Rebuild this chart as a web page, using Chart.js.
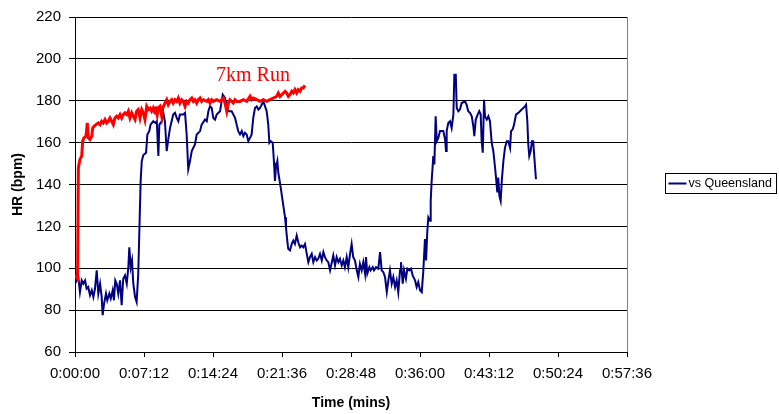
<!DOCTYPE html>
<html>
<head>
<meta charset="utf-8">
<script src="https://cdn.jsdelivr.net/npm/chart.js@4"></script>
<style>
  html, body { margin: 0; padding: 0; background: #fff; }
  #wrap { width: 779px; height: 414px; }
</style>
</head>
<body>
<div id="wrap"><canvas id="canvas" width="779" height="414"></canvas></div>
<script>
// elapsed time in seconds, heart rate in bpm
const blueTime = [0, 11, 21, 31, 42, 52, 63, 73, 83, 94, 105, 115, 125, 136, 146, 157, 167, 173, 182, 194,
  202, 215, 224, 236, 244, 252, 261, 271, 282, 292, 302, 313, 324, 334, 340, 349, 357, 365, 376, 386,
  396, 403, 411, 418, 428, 445, 453, 465, 473, 490, 503, 512, 522, 528, 543, 553, 563, 574, 584, 595,
  615, 626, 637, 647, 657, 678, 689, 699, 709, 720, 731, 751, 762, 783, 793, 814, 825, 835, 845, 856,
  866, 877, 887, 908, 925, 939, 950, 960, 981, 1002, 1012, 1022, 1033, 1044, 1054, 1064, 1075, 1085, 1096, 1106,
  1116, 1127, 1138, 1148, 1158, 1179, 1190, 1200, 1210, 1217, 1225, 1238, 1246, 1252, 1258, 1267, 1273, 1288, 1300, 1315,
  1321, 1329, 1335, 1346, 1357, 1367, 1377, 1388, 1398, 1409, 1419, 1429, 1440, 1451, 1461, 1471, 1482, 1492, 1503, 1513,
  1523, 1534, 1545, 1555, 1565, 1576, 1586, 1597, 1617, 1628, 1638, 1649, 1659, 1670, 1680, 1690, 1701, 1711, 1722, 1732,
  1742, 1753, 1764, 1774, 1784, 1795, 1805, 1816, 1822, 1830, 1843, 1851, 1864, 1872, 1885, 1899, 1910, 1920, 1930, 1941,
  1952, 1962, 1972, 1983, 1993, 2004, 2014, 2024, 2035, 2041, 2052, 2060, 2072, 2081, 2093, 2104, 2114, 2129, 2139, 2149,
  2160, 2171, 2181, 2191, 2198, 2206, 2212, 2223, 2227, 2233, 2240, 2243, 2250, 2258, 2265, 2275, 2285, 2306, 2317, 2323,
  2327, 2337, 2348, 2358, 2369, 2375, 2384, 2390, 2400, 2410, 2421, 2442, 2452, 2462, 2473, 2484, 2494, 2500, 2509, 2521,
  2531, 2540, 2546, 2553, 2561, 2567, 2578, 2588, 2598, 2609, 2619, 2630, 2636, 2644, 2650, 2657, 2665, 2672, 2682, 2692,
  2703, 2713, 2724, 2730, 2740, 2749, 2761, 2775, 2797, 2817, 2824, 2832, 2838, 2844, 2853, 2861, 2869, 2876, 2886];
const blueHR = [100.5, 94.2, 95.8, 88.6, 94.2, 92.6, 94.2, 90.2, 91, 87.1, 89.5, 86.3, 90.2, 99, 87.9, 92.6, 86.3, 77.6, 83.1, 87.9,
  84.7, 87.9, 85.5, 89.5, 84.7, 94.2, 92.6, 87.9, 94.2, 82.3, 95, 96.6, 92.6, 100.5, 110, 100.5, 103.7, 92.6, 86.3, 83.9,
  97.4, 118, 141.7, 151.2, 154.1, 155.2, 163.9, 165.5, 168.6, 170.2, 169.4, 170.2, 153.6, 168.6, 170.2, 174.2, 170.2, 156, 161.5, 167,
  173.4, 174.2, 171.8, 170.2, 173.4, 173.4, 174.2, 163.9, 147.3, 151.2, 156, 159.1, 163.9, 165.5, 168.6, 171, 170.2, 175, 177.3, 176.5,
  171.8, 171, 173.4, 175, 182.9, 181.3, 178.1, 175, 175, 171.8, 168.6, 165.5, 163.9, 165.5, 163.1, 164.7, 163.9, 160.7, 162.3, 163.9,
  171.8, 176.5, 177.3, 175.8, 176.5, 179.7, 177.3, 175, 168.6, 159.9, 160.7, 159.9, 150.4, 141.7, 148, 151.2, 145.6, 138.5, 132.2, 124.3,
  119.5, 113.2, 109.3, 108.5, 111.6, 113.2, 111.6, 115.6, 112.4, 110, 110.8, 110, 111.6, 106.9, 102.9, 105.3, 106.9, 102.9, 105.3, 103.7,
  104.5, 106.9, 103.7, 107.7, 105.3, 103.7, 102.9, 99, 106.1, 101.3, 105.3, 102.9, 104.5, 101.3, 103.7, 100.5, 105.3, 100.5, 106.9, 111.6,
  105.3, 103.7, 99, 95.8, 102.1, 99, 102.9, 97.4, 105.3, 97.4, 100.5, 99, 100.5, 99, 100.5, 99.8, 107.7, 99, 98.2, 95.8,
  88.6, 94.2, 99, 92.6, 95.8, 91, 94.2, 88.6, 99, 102.9, 92.6, 99, 95, 99.8, 99, 99.8, 96.6, 94.2, 91, 93.4,
  89.5, 88.6, 99, 114, 103.7, 118, 124.3, 122.7, 132.2, 141.7, 149.6, 153.6, 149.6, 172.6, 160.7, 162.3, 165.5, 165.5, 161.5, 156,
  165.5, 169.4, 170.2, 167, 173.4, 192.4, 192.4, 176.5, 175, 175.8, 178.9, 179.7, 178.1, 175, 174.2, 172.6, 167.8, 163.1, 171, 173.4,
  175, 173.4, 160.7, 155.2, 180.5, 172.6, 171, 172.6, 170.2, 159.9, 156, 148, 143.3, 136.2, 143.3, 134.6, 132.2, 141.7, 151.2, 157.5,
  160.7, 160.7, 157.5, 165.5, 166.3, 168.6, 173.4, 174.2, 175.8, 177.3, 178.1, 170.2, 159.1, 153.6, 156, 160.7, 160.7, 152.8, 142.5];

const redTime = [0, 16, 21, 31, 42, 48, 56, 69, 77, 83, 94, 105, 111, 119, 131, 146, 157, 167, 177, 188,
  198, 208, 219, 230, 240, 250, 261, 271, 282, 292, 302, 313, 324, 334, 344, 355, 365, 376, 386, 396,
  407, 418, 428, 438, 449, 459, 470, 480, 490, 501, 507, 515, 522, 532, 543, 549, 563, 574, 584, 595,
  605, 615, 626, 637, 647, 657, 668, 678, 689, 699, 709, 720, 731, 741, 751, 762, 772, 783, 793, 804,
  825, 835, 845, 856, 866, 887, 908, 929, 939, 950, 960, 970, 991, 1002, 1012, 1033, 1054, 1075, 1096, 1106,
  1116, 1138, 1158, 1179, 1200, 1221, 1242, 1263, 1273, 1284, 1294, 1315, 1325, 1336, 1346, 1357, 1367, 1377, 1388, 1398,
  1409, 1419, 1429, 1440];
const redHR = [96.5, 95, 148, 152, 153.6, 160.7, 162.3, 163.1, 169.4, 162.3, 161.5, 163.1, 167, 167.8, 168.6, 169.4, 168.6, 170.2, 169.4, 171,
  169.4, 170.2, 171.8, 170.2, 168.6, 171.8, 172.6, 171.8, 173.4, 171.8, 173.4, 174.2, 173.4, 175, 171.8, 174.2, 172.6, 171, 175, 175.8,
  171.8, 175.8, 174.2, 171, 177.3, 175.8, 176.5, 175, 176.5, 174.2, 177.3, 173.4, 176.5, 177.3, 172.6, 176.5, 178.9, 180.5, 178.1, 179.7,
  180.5, 178.9, 180.5, 179.7, 181.3, 178.9, 180.5, 179.7, 177.3, 179.7, 178.9, 180.5, 181.3, 179.7, 180.5, 178.9, 180.5, 181.3, 179.7, 180.5,
  179.7, 180.5, 178.9, 180.5, 179.7, 180.5, 179.7, 181.3, 178.9, 175, 178.9, 180.5, 178.9, 180.5, 179.7, 179.7, 180.5, 179.7, 182.1, 180.5,
  181.3, 180.5, 179.7, 180.5, 179.7, 180.5, 181.3, 182.1, 183.7, 182.1, 182.9, 184.5, 183.7, 182.1, 182.9, 184.5, 183.7, 185.3, 183.7, 185.3,
  184.5, 186.1, 186.1, 187.3];

const seriesNames = ["7km Run", "vs Queensland"];
const yTicks = { min: 60, max: 220, step: 20 };
const xTicks = { min: 0, max: 3456, step: 432 };   // 0:00:00 .. 0:57:36 every 0:07:12
const runLabelAt = { t: 883, hr: 189.2 };

function hms(sec) {
  const h = Math.floor(sec / 3600);
  const m = Math.floor((sec % 3600) / 60);
  const s = Math.round(sec % 60);
  return h + ":" + String(m).padStart(2, "0") + ":" + String(s).padStart(2, "0");
}

const pairs = (ts, vs) => ts.map((t, i) => ({ x: t, y: vs[i] }));

const FONT = "'Liberation Sans', Arial, sans-serif";

const extras = {
  id: "extras",
  beforeDraw(chart) {
    const ctx = chart.ctx;
    ctx.save();
    ctx.fillStyle = "#fff";
    ctx.fillRect(0, 0, chart.width, chart.height);
    ctx.restore();
  },
  afterDraw(chart) {
    const { ctx, chartArea, scales } = chart;
    ctx.save();
    // plot area right border
    ctx.strokeStyle = "#808080";
    ctx.lineWidth = 1;
    ctx.beginPath();
    ctx.moveTo(Math.round(chartArea.right) + 0.5, chartArea.top);
    ctx.lineTo(Math.round(chartArea.right) + 0.5, chartArea.bottom);
    ctx.stroke();

    // "7km Run" label
    ctx.fillStyle = "#ff0000";
    ctx.font = "20px 'Liberation Serif', 'DejaVu Serif', serif";
    ctx.textBaseline = "alphabetic";
    ctx.textAlign = "left";
    ctx.fillText(seriesNames[0], scales.x.getPixelForValue(runLabelAt.t), scales.y.getPixelForValue(runLabelAt.hr));

    // legend box
    const bx = 665.5, by = 173.5, bw = 111, bh = 20;
    ctx.strokeStyle = "#000";
    ctx.lineWidth = 1;
    ctx.strokeRect(bx, by, bw, bh);
    ctx.strokeStyle = "#000080";
    ctx.lineWidth = 2;
    ctx.beginPath();
    ctx.moveTo(bx + 3, by + 10);
    ctx.lineTo(bx + 21, by + 10);
    ctx.stroke();
    ctx.fillStyle = "#000";
    ctx.font = "12.5px " + FONT;
    ctx.textBaseline = "middle";
    ctx.fillText(seriesNames[1], bx + 23, by + 10.5);
    ctx.restore();
  }
};

new Chart(document.getElementById("canvas").getContext("2d"), {
  type: "line",
  data: {
    datasets: [
      {
        label: seriesNames[0],
        data: pairs(redTime, redHR),
        borderColor: "#ff0000",
        borderWidth: 3,
        pointRadius: 0,
        tension: 0
      },
      {
        label: seriesNames[1],
        data: pairs(blueTime, blueHR),
        borderColor: "#000080",
        borderWidth: 2,
        pointRadius: 0,
        tension: 0
      }
    ]
  },
  options: {
    responsive: false,
    animation: false,
    parsing: false,
    layout: { padding: { left: 0, top: 15, right: 152, bottom: 0 } },
    plugins: {
      legend: { display: false },
      tooltip: { enabled: false }
    },
    scales: {
      x: {
        type: "linear",
        min: xTicks.min,
        max: xTicks.max,
        afterFit: (s) => { s.height = 62; },
        ticks: {
          stepSize: xTicks.step,
          color: "#000",
          font: { family: FONT, size: 15 },
          padding: 8,
          maxRotation: 0,
          callback: (v) => hms(v)
        },
        grid: { drawOnChartArea: false, drawTicks: true, tickLength: 5, color: "#000" },
        border: { color: "#000", width: 1 },
        title: {
          display: true,
          text: "Time (mins)",
          color: "#000",
          font: { family: FONT, size: 14, weight: "bold" },
          padding: { top: 0, bottom: 2 }
        }
      },
      y: {
        min: yTicks.min,
        max: yTicks.max,
        afterFit: (s) => { s.width = 75; },
        ticks: {
          stepSize: yTicks.step,
          color: "#000",
          font: { family: FONT, size: 15 },
          padding: 8
        },
        grid: { color: "#000", lineWidth: 1, tickLength: 6 },
        border: { color: "#000", width: 1 },
        title: {
          display: true,
          text: "HR (bpm)",
          color: "#000",
          font: { family: FONT, size: 14, weight: "bold" },
          padding: { top: 10, bottom: 0 }
        }
      }
    }
  },
  plugins: [extras]
});
</script>
</body>
</html>
